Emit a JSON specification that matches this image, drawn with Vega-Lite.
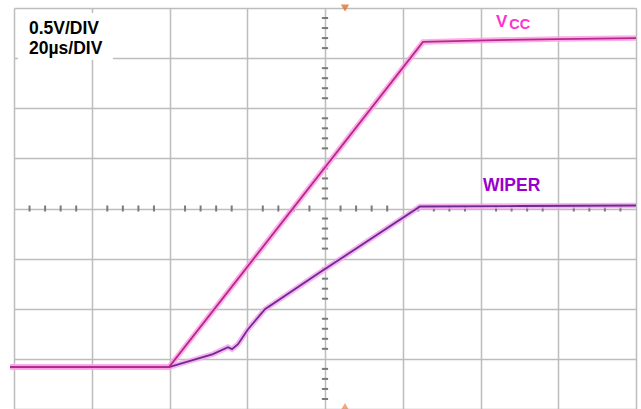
{
  "$schema": "https://vega.github.io/schema/vega-lite/v6.json",
  "autosize": "none",
  "width": 622,
  "height": 401,
  "padding": {"left": 14, "top": 8, "right": 5, "bottom": 0},
  "background": "white",
  "config": {"view": {"stroke": null}},
  "datasets": {
    "traces": [
      {"series": "VCC", "t": -0.05, "v": 0.836},
      {"series": "VCC", "t": 1.994, "v": 0.836},
      {"series": "VCC", "t": 5.26, "v": 7.323},
      {"series": "VCC", "t": 6.2, "v": 7.36},
      {"series": "VCC", "t": 7.0, "v": 7.38},
      {"series": "VCC", "t": 8.0, "v": 7.40},
      {"series": "WIPER", "t": -0.05, "v": 0.836},
      {"series": "WIPER", "t": 1.994, "v": 0.836},
      {"series": "WIPER", "t": 2.559, "v": 1.095},
      {"series": "WIPER", "t": 2.752, "v": 1.234},
      {"series": "WIPER", "t": 2.804, "v": 1.194},
      {"series": "WIPER", "t": 2.881, "v": 1.294},
      {"series": "WIPER", "t": 3.01, "v": 1.592},
      {"series": "WIPER", "t": 3.228, "v": 1.99},
      {"series": "WIPER", "t": 3.936, "v": 2.726},
      {"series": "WIPER", "t": 5.222, "v": 4.04},
      {"series": "WIPER", "t": 6.5, "v": 4.05},
      {"series": "WIPER", "t": 8.0, "v": 4.06}
    ],
    "hticks": [
      {"p": 0.2}, {"p": 0.4}, {"p": 0.6}, {"p": 0.8},
      {"p": 1.2}, {"p": 1.4}, {"p": 1.6}, {"p": 1.8},
      {"p": 2.2}, {"p": 2.4}, {"p": 2.6}, {"p": 2.8},
      {"p": 3.2}, {"p": 3.4}, {"p": 3.6}, {"p": 3.8},
      {"p": 4.2}, {"p": 4.4}, {"p": 4.6}, {"p": 4.8},
      {"p": 5.2}, {"p": 5.4}, {"p": 5.6}, {"p": 5.8},
      {"p": 6.2}, {"p": 6.4}, {"p": 6.6}, {"p": 6.8},
      {"p": 7.2}, {"p": 7.4}, {"p": 7.6}, {"p": 7.8}
    ]
  },
  "layer": [
    {
      "data": {"values": [{"x1": 0.051, "x2": 1.273, "y1": 6.965, "y2": 7.9}]},
      "mark": {"type": "rect", "color": "white"},
      "encoding": {
        "x": {"field": "x1", "type": "quantitative", "scale": {"domain": [0, 8], "nice": false, "zero": false},
              "axis": {"values": [0, 1, 2, 3, 4, 5, 6, 7, 8], "grid": true, "gridColor": "#bdbdbd", "gridWidth": 1.5, "labels": false, "ticks": false, "domain": false, "title": null}},
        "x2": {"field": "x2"},
        "y": {"field": "y1", "type": "quantitative", "scale": {"domain": [0, 8], "nice": false, "zero": false},
              "axis": {"values": [0, 1, 2, 3, 4, 5, 6, 7, 8], "grid": true, "gridColor": "#bdbdbd", "gridWidth": 1.5, "labels": false, "ticks": false, "domain": false, "title": null}},
        "y2": {"field": "y2"}
      }
    },
    {
      "data": {"name": "hticks"},
      "mark": {"type": "rule", "color": "#7a7a7a", "strokeWidth": 2},
      "encoding": {
        "x": {"field": "p", "type": "quantitative"},
        "y": {"datum": 3.94},
        "y2": {"datum": 4.06}
      }
    },
    {
      "data": {"name": "hticks"},
      "mark": {"type": "rule", "color": "#7a7a7a", "strokeWidth": 2},
      "encoding": {
        "y": {"field": "p", "type": "quantitative"},
        "x": {"datum": 3.96},
        "x2": {"datum": 4.04}
      }
    },
    {
      "data": {"name": "traces"},
      "transform": [{"filter": "datum.series === 'WIPER'"}],
      "mark": {"type": "line", "color": "#f4a6ec", "strokeWidth": 5.5, "opacity": 0.85, "clip": false},
      "encoding": {"x": {"field": "t", "type": "quantitative"}, "y": {"field": "v", "type": "quantitative"}, "order": {"field": "t"}}
    },
    {
      "data": {"name": "traces"},
      "transform": [{"filter": "datum.series === 'VCC'"}],
      "mark": {"type": "line", "color": "#ff9ee8", "strokeWidth": 5.5, "opacity": 0.85, "clip": false},
      "encoding": {"x": {"field": "t", "type": "quantitative"}, "y": {"field": "v", "type": "quantitative"}, "order": {"field": "t"}}
    },
    {
      "data": {"name": "traces"},
      "transform": [{"filter": "datum.series === 'WIPER'"}],
      "mark": {"type": "line", "color": "#6e2a92", "strokeWidth": 1.8, "clip": false},
      "encoding": {"x": {"field": "t", "type": "quantitative"}, "y": {"field": "v", "type": "quantitative"}, "order": {"field": "t"}}
    },
    {
      "data": {"name": "traces"},
      "transform": [{"filter": "datum.series === 'VCC'"}],
      "mark": {"type": "line", "color": "#b52a86", "strokeWidth": 1.8, "clip": false},
      "encoding": {"x": {"field": "t", "type": "quantitative"}, "y": {"field": "v", "type": "quantitative"}, "order": {"field": "t"}}
    },
    {
      "data": {"values": [{"label": "0.5V/DIV", "x": 0.193, "y": 7.483}, {"label": "20µs/DIV", "x": 0.193, "y": 7.085}]},
      "mark": {"type": "text", "font": "Liberation Sans", "fontWeight": "bold", "fontSize": 17.5, "color": "black", "align": "left", "baseline": "alphabetic"},
      "encoding": {"x": {"field": "x", "type": "quantitative"}, "y": {"field": "y", "type": "quantitative"}, "text": {"field": "label"}}
    },
    {
      "data": {"values": [{"label": "V", "x": 6.2, "y": 7.622}]},
      "mark": {"type": "text", "font": "Liberation Sans", "fontWeight": "bold", "fontSize": 17, "color": "#ff33cc", "align": "left", "baseline": "alphabetic"},
      "encoding": {"x": {"field": "x", "type": "quantitative"}, "y": {"field": "y", "type": "quantitative"}, "text": {"field": "label"}}
    },
    {
      "data": {"values": [{"label": "CC", "x": 6.37, "y": 7.58}]},
      "mark": {"type": "text", "font": "Liberation Sans", "fontWeight": "bold", "fontSize": 14.5, "color": "#ff33cc", "align": "left", "baseline": "alphabetic"},
      "encoding": {"x": {"field": "x", "type": "quantitative"}, "y": {"field": "y", "type": "quantitative"}, "text": {"field": "label"}}
    },
    {
      "data": {"values": [{"label": "WIPER", "x": 6.032, "y": 4.358}]},
      "mark": {"type": "text", "font": "Liberation Sans", "fontWeight": "bold", "fontSize": 17.5, "color": "#9900cc", "align": "left", "baseline": "alphabetic"},
      "encoding": {"x": {"field": "x", "type": "quantitative"}, "y": {"field": "y", "type": "quantitative"}, "text": {"field": "label"}}
    },
    {
      "data": {"values": [{"x": 4.257, "y": 8.0}]},
      "mark": {"type": "point", "shape": "triangle-down", "filled": true, "color": "#e0702a", "size": 70, "opacity": 0.8, "clip": false},
      "encoding": {"x": {"field": "x", "type": "quantitative"}, "y": {"field": "y", "type": "quantitative"}}
    },
    {
      "data": {"values": [{"x": 4.257, "y": 0.06}]},
      "mark": {"type": "point", "shape": "triangle-up", "filled": true, "color": "#e0702a", "size": 50, "opacity": 0.6, "clip": false},
      "encoding": {"x": {"field": "x", "type": "quantitative"}, "y": {"field": "y", "type": "quantitative"}}
    }
  ]
}
